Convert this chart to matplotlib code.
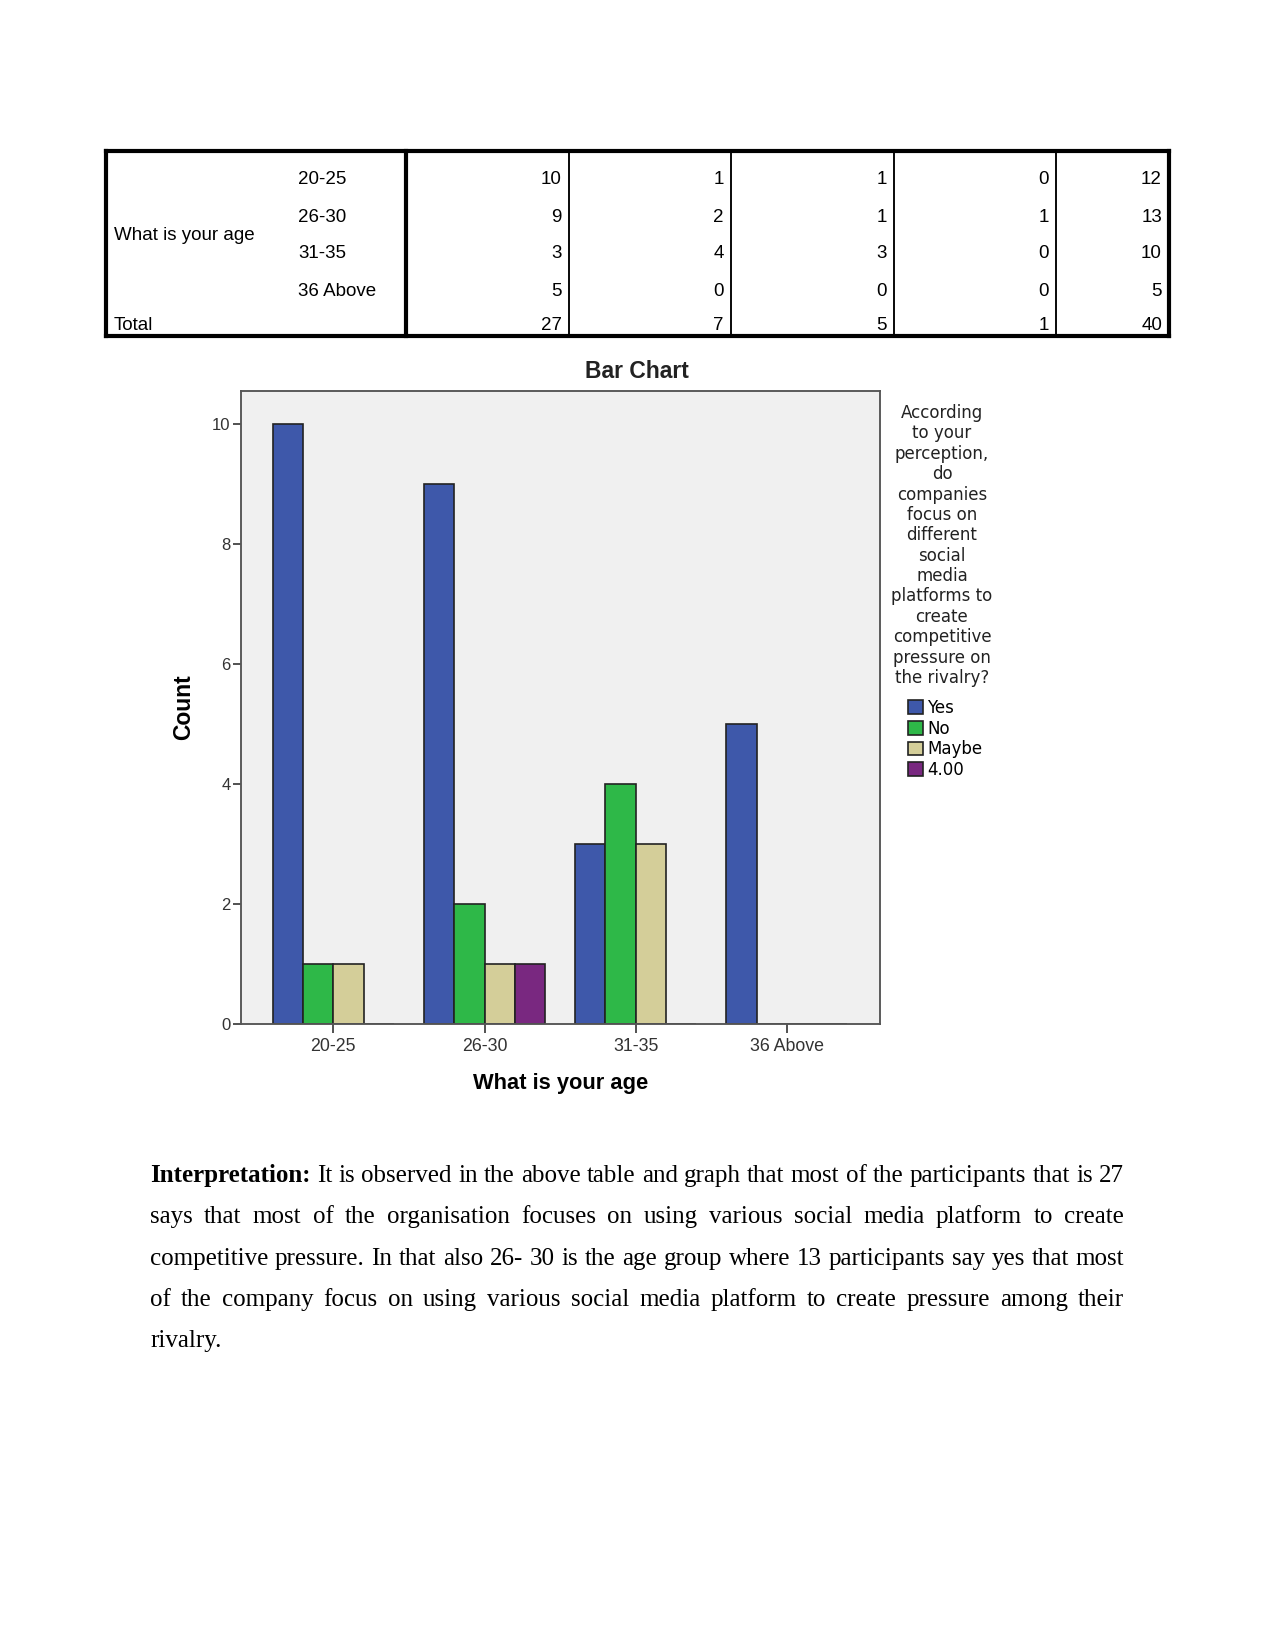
import numpy as np
import matplotlib.pyplot as plt
from matplotlib.patches import Patch
from matplotlib.lines import Line2D

# crosstab data
age_groups = ['20-25', '26-30', '31-35', '36 Above']
yes_counts = [10, 9, 3, 5]
no_counts = [1, 2, 4, 0]
maybe_counts = [1, 1, 3, 0]
other_counts = [0, 1, 0, 0]
answer_labels = ['Yes', 'No', 'Maybe', '4.00']
bar_colors = ['#3e58aa', '#2eb848', '#d4ce99', '#792880']

legend_title = ('According\nto your\nperception,\ndo\ncompanies\nfocus on\ndifferent\nsocial\nmedia\n'
                'platforms to\ncreate\ncompetitive\npressure on\nthe rivalry?')

body_lines = [
    'Interpretation: It is observed in the above table and graph that most of the participants that is 27',
    'says that most of the organisation focuses on using various social media platform to create',
    'competitive pressure. In that also 26- 30 is the age group where 13 participants say yes that most',
    'of the company focus on using various social media platform to create pressure among their',
    'rivalry.',
]

W, H = 1275, 1650
fig = plt.figure(figsize=(8.5, 11), dpi=150)
fig.patch.set_facecolor('white')


def fx(x):
    return x / W


def fy(y):
    return 1 - y / H


def hline(x0, x1, y, lw):
    fig.add_artist(Line2D([fx(x0), fx(x1)], [fy(y), fy(y)], color='black', lw=lw, transform=fig.transFigure))


def vline(x, y0, y1, lw):
    fig.add_artist(Line2D([fx(x), fx(x)], [fy(y0), fy(y1)], color='black', lw=lw, transform=fig.transFigure))


# ---- table ----
tbl_left, tbl_right, tbl_top, tbl_bottom = 106, 1169, 151, 336
col_edges = [406, 569, 731, 894, 1056, 1169]
row_y = [179, 217, 253, 291, 325]
tfont = dict(family='Liberation Sans', fontsize=9, va='center')

hline(tbl_left, tbl_right, tbl_top, 2.0)
hline(tbl_left, tbl_right, tbl_bottom, 2.0)
vline(tbl_left, tbl_top, tbl_bottom, 2.0)
vline(tbl_right, tbl_top, tbl_bottom, 2.0)
vline(col_edges[0], tbl_top, tbl_bottom, 2.0)
for x in col_edges[1:-1]:
    vline(x, tbl_top, tbl_bottom, 0.9)

counts = [yes_counts, no_counts, maybe_counts, other_counts]
row_totals = [sum(c) for c in zip(*counts)]
col_totals = [sum(c) for c in counts]

fig.text(fx(114), fy(235), 'What is your age', **tfont)
for i, age in enumerate(age_groups):
    fig.text(fx(298), fy(row_y[i]), age, **tfont)
    vals = [c[i] for c in counts] + [row_totals[i]]
    for j, v in enumerate(vals):
        fig.text(fx(col_edges[j + 1] - 7), fy(row_y[i]), str(v), ha='right', **tfont)
fig.text(fx(114), fy(row_y[4]), 'Total', **tfont)
for j, v in enumerate(col_totals + [sum(row_totals)]):
    fig.text(fx(col_edges[j + 1] - 7), fy(row_y[4]), str(v), ha='right', **tfont)

# ---- bar chart ----
ax = fig.add_axes([fx(241), fy(1024), (880 - 241) / W, (1024 - 391) / H])
ax.set_facecolor('#f0f0f0')
x = np.arange(len(age_groups))
width = 0.2
for k, (vals, col, lab) in enumerate(zip(counts, bar_colors, answer_labels)):
    ax.bar(x + (k - 1.5) * width, vals, width, color=col, edgecolor='#222222', linewidth=0.8, label=lab)

ax.set_xlim(-0.61, 3.615)
ax.set_ylim(0, 10.55)
ax.set_yticks([0, 2, 4, 6, 8, 10])
ax.set_xticks(x)
ax.set_xticklabels(age_groups, family='Liberation Sans', fontsize=8.5)
ax.set_yticklabels([str(v) for v in [0, 2, 4, 6, 8, 10]], family='Liberation Sans', fontsize=8)
ax.tick_params(axis='y', direction='out', length=4, width=0.8, pad=1, colors='#333333')
ax.tick_params(axis='x', direction='out', length=4.5, width=0.8, pad=2, colors='#333333')
for s in ax.spines.values():
    s.set_color('#555555')
    s.set_linewidth(0.9)

fig.text(fx(637), fy(371), 'Bar Chart', ha='center', va='center', family='Liberation Sans',
         fontsize=11, weight='bold', color='#222222')
fig.text(fx(184), fy(707), 'Count', ha='center', va='center', rotation=90, family='Liberation Sans',
         fontsize=11, weight='bold')
fig.text(fx(561), fy(1084), 'What is your age', ha='center', va='center', family='Liberation Sans',
         fontsize=10.5, weight='bold')

fig.text(fx(942), fy(404), legend_title, ha='center', va='top', family='DejaVu Sans', fontsize=8,
         linespacing=1.17, color='#222222')
handles = [Patch(facecolor=c, edgecolor='#222222', lw=0.8) for c in bar_colors]
ax.legend(handles, answer_labels, loc='upper left', bbox_to_anchor=(fx(908), fy(699)),
          bbox_transform=fig.transFigure, frameon=False, prop={'family': 'DejaVu Sans', 'size': 8},
          handlelength=0.9, handleheight=0.9, handletextpad=0.25, labelspacing=0.16, borderpad=0,
          borderaxespad=0)

# ---- justified paragraph ----
renderer = fig.canvas.get_renderer()
left, right = 150, 1124
for i, line in enumerate(body_lines):
    y = fy(1182 + i * 41.3)
    words = line.split(' ')
    texts = []
    for j, w in enumerate(words):
        bold = (i == 0 and j == 0)
        t = fig.text(0, y, w, family='Liberation Serif', fontsize=12, va='baseline',
                     weight='bold' if bold else 'normal')
        texts.append(t)
    widths = [t.get_window_extent(renderer).width for t in texts]
    if i < len(body_lines) - 1 and len(words) > 1:
        gap = (right - left - sum(widths)) / (len(words) - 1)
    else:
        gap = 6.25
    pos = left
    for t, w in zip(texts, widths):
        t.set_x(fx(pos))
        pos += w + gap

fig.savefig('out.png', dpi=150)
